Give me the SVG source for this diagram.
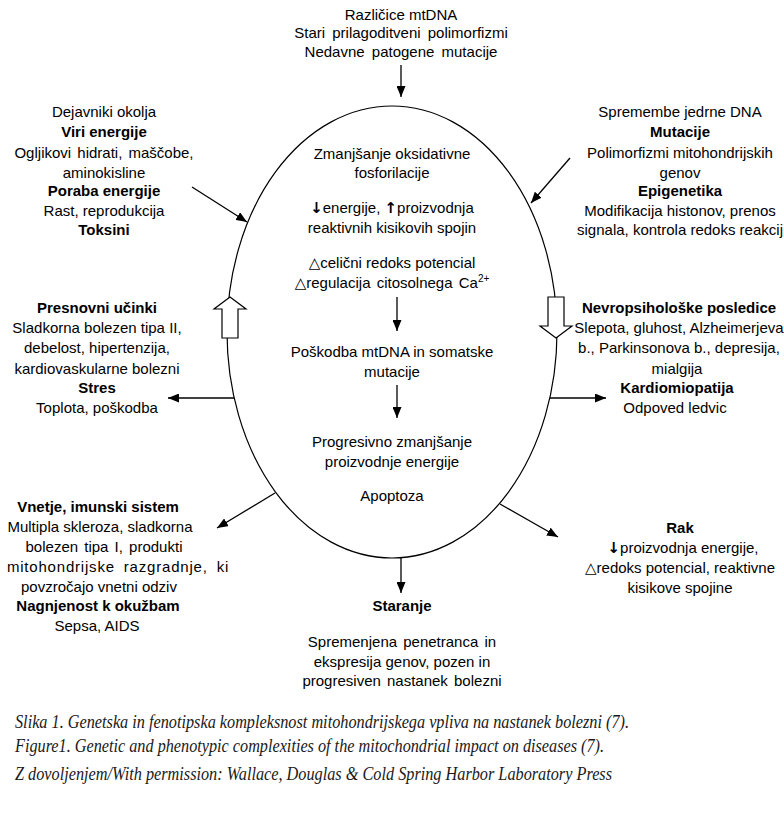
<svg xmlns="http://www.w3.org/2000/svg" width="784" height="822" viewBox="0 0 784 822">
<style>
  text { font-family: "Liberation Sans", Arial, "DejaVu Sans", sans-serif; font-size: 15px; fill: #000; text-anchor: middle; }
  .b { font-weight: bold; }
  .cap { font-family: "Liberation Serif", "Times New Roman", serif; font-style: italic; font-size: 18px; text-anchor: start; fill: #1a1a1a; }
  .ln { stroke: #000; stroke-width: 1.3; fill: none; }
  .hollow { fill: #fff; stroke: #000; stroke-width: 1.2; }
  .sym { font-family: "DejaVu Sans", "Liberation Sans", sans-serif; }
</style>
<defs>
  <marker id="ah" markerUnits="userSpaceOnUse" markerWidth="11" markerHeight="9" refX="11" refY="4.5" orient="auto">
    <path d="M0,0 L11,4.5 L0,9 Z" fill="#000"/>
  </marker>
</defs>
<rect width="784" height="822" fill="#fff"/>

<g id="mito-ellipse">
  <ellipse cx="392" cy="332" rx="165" ry="226" fill="none" stroke="#000" stroke-width="1.2"/>
</g>

<g id="connectors">
  <line class="ln" x1="401" y1="65" x2="401" y2="97" marker-end="url(#ah)"/>
  <line class="ln" x1="192" y1="187" x2="247" y2="222" marker-end="url(#ah)"/>
  <line class="ln" x1="570" y1="158" x2="531" y2="203" marker-end="url(#ah)"/>
  <line class="ln" x1="397" y1="297" x2="397" y2="331" marker-end="url(#ah)"/>
  <line class="ln" x1="397" y1="385" x2="397" y2="418" marker-end="url(#ah)"/>
  <line class="ln" x1="234" y1="398" x2="168" y2="398" marker-end="url(#ah)"/>
  <line class="ln" x1="550" y1="398" x2="606" y2="398" marker-end="url(#ah)"/>
  <line class="ln" x1="275" y1="493" x2="217" y2="528" marker-end="url(#ah)"/>
  <line class="ln" x1="500" y1="504" x2="558" y2="537" marker-end="url(#ah)"/>
  <line class="ln" x1="401" y1="558" x2="401" y2="593" marker-end="url(#ah)"/>
  <path class="hollow" d="M230,297 L246,309 L238,309 L238,338 L222,338 L222,309 L214,309 Z"/>
  <path class="hollow" d="M548,297 L564,297 L564,326 L572,326 L556,338 L540,326 L548,326 Z"/>
</g>

<g id="node-mtdna">
  <text x="401" y="20">Različice mtDNA</text>
  <text x="401" y="38" word-spacing="3">Stari prilagoditveni polimorfizmi</text>
  <text x="401" y="57" word-spacing="3">Nedavne patogene mutacije</text>
</g>

<g id="node-environment">
  <text x="104" y="117">Dejavniki okolja</text>
  <text x="104" y="137" class="b">Viri energije</text>
  <text x="104" y="158" word-spacing="2">Ogljikovi hidrati, maščobe,</text>
  <text x="104" y="178">aminokisline</text>
  <text x="104" y="196" class="b">Poraba energije</text>
  <text x="104" y="216">Rast, reprodukcija</text>
  <text x="104" y="235" class="b">Toksini</text>
</g>

<g id="node-nuclear">
  <text x="680" y="117">Spremembe jedrne DNA</text>
  <text x="680" y="137" class="b">Mutacije</text>
  <text x="680" y="158">Polimorfizmi mitohondrijskih</text>
  <text x="680" y="178">genov</text>
  <text x="680" y="196" class="b">Epigenetika</text>
  <text x="680" y="216">Modifikacija histonov, prenos</text>
  <text x="680" y="235">signala, kontrola redoks reakcij</text>
</g>

<g id="node-center">
  <text x="392" y="159">Zmanjšanje oksidativne</text>
  <text x="392" y="178">fosforilacije</text>
  <text x="392" y="213"><tspan class="sym" font-weight="bold">↓</tspan>energije, <tspan class="sym" font-weight="bold">↑</tspan>proizvodnja</text>
  <text x="392" y="233">reaktivnih kisikovih spojin</text>
  <text x="392" y="268"><tspan class="sym">△</tspan>celični redoks potencial</text>
  <text x="392" y="288" word-spacing="2"><tspan class="sym">△</tspan>regulacija citosolnega Ca<tspan font-size="10" dy="-6">2+</tspan></text>
  <text x="392" y="357">Poškodba mtDNA in somatske</text>
  <text x="392" y="377">mutacije</text>
  <text x="392" y="447">Progresivno zmanjšanje</text>
  <text x="392" y="467">proizvodnje energije</text>
  <text x="392" y="501">Apoptoza</text>
</g>

<g id="node-metabolic">
  <text x="97" y="313" class="b">Presnovni učinki</text>
  <text x="97" y="333">Sladkorna bolezen tipa II,</text>
  <text x="97" y="353">debelost, hipertenzija,</text>
  <text x="97" y="374">kardiovaskularne bolezni</text>
  <text x="97" y="393" class="b">Stres</text>
  <text x="97" y="413">Toplota, poškodba</text>
</g>

<g id="node-neuro">
  <text x="679" y="313" class="b">Nevropsihološke posledice</text>
  <text x="679" y="333">Slepota, gluhost, Alzheimerjeva</text>
  <text x="679" y="353">b., Parkinsonova b., depresija,</text>
  <text x="677" y="374">mialgija</text>
  <text x="677" y="393" class="b">Kardiomiopatija</text>
  <text x="675" y="413">Odpoved ledvic</text>
</g>

<g id="node-inflammation">
  <text x="98" y="512" class="b">Vnetje, imunski sistem</text>
  <text x="100" y="532">Multipla skleroza, sladkorna</text>
  <text x="104" y="552" word-spacing="2">bolezen tipa I, produkti</text>
  <text x="118" y="572" letter-spacing="0.8" word-spacing="4">mitohondrijske razgradnje, ki</text>
  <text x="99" y="592">povzročajo vnetni odziv</text>
  <text x="98" y="611" class="b">Nagnjenost k okužbam</text>
  <text x="97" y="631">Sepsa, AIDS</text>
</g>

<g id="node-cancer">
  <text x="680" y="533" class="b">Rak</text>
  <text x="683" y="553"><tspan class="sym" font-weight="bold">↓</tspan>proizvodnja energije,</text>
  <text x="680" y="573"><tspan class="sym">△</tspan>redoks potencial, reaktivne</text>
  <text x="680" y="593">kisikove spojine</text>
</g>

<g id="node-aging">
  <text x="402" y="611" class="b">Staranje</text>
  <text x="402" y="647" word-spacing="2">Spremenjena penetranca in</text>
  <text x="402" y="667">ekspresija genov, pozen in</text>
  <text x="402" y="686" word-spacing="2">progresiven nastanek bolezni</text>
</g>

<g id="caption">
  <text class="cap" x="15" y="728" textLength="614" lengthAdjust="spacingAndGlyphs">Slika 1. Genetska in fenotipska kompleksnost mitohondrijskega vpliva na nastanek bolezni (7).</text>
  <text class="cap" x="15" y="752" textLength="589" lengthAdjust="spacingAndGlyphs">Figure1. Genetic and phenotypic complexities of the mitochondrial impact on diseases (7).</text>
  <text class="cap" x="15" y="780" textLength="597" lengthAdjust="spacingAndGlyphs">Z dovoljenjem/With permission: Wallace, Douglas &amp; Cold Spring Harbor Laboratory Press</text>
</g>
</svg>
